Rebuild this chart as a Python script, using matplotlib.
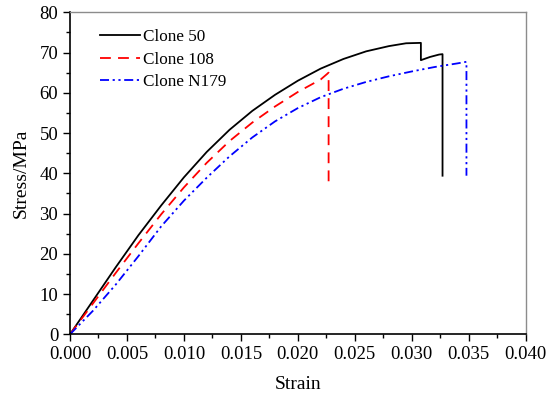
import matplotlib
matplotlib.use("Agg")
import matplotlib.pyplot as plt
from matplotlib.ticker import MultipleLocator, FormatStrFormatter

plt.rcParams['font.family'] = ['Liberation Serif', 'DejaVu Serif']

# Clone 50
strain_50 = [0, 0.002, 0.004, 0.006, 0.008, 0.010, 0.012, 0.014, 0.016, 0.018,
             0.020, 0.022, 0.024, 0.026, 0.028, 0.0295, 0.0308,
             0.0308, 0.0316, 0.0324, 0.0327, 0.0327]
stress_50 = [0, 8.3, 16.6, 24.6, 32.0, 39.0, 45.3, 50.8, 55.5, 59.5,
             63.0, 66.0, 68.4, 70.3, 71.6, 72.3, 72.4,
             68.1, 68.9, 69.5, 69.6, 39.4]

# Clone 108
strain_108 = [0, 0.002, 0.004, 0.006, 0.008, 0.010, 0.012, 0.014, 0.016, 0.018,
              0.020, 0.022, 0.0227, 0.0227]
stress_108 = [0, 7.6, 15.2, 22.6, 29.8, 36.5, 42.6, 48.0, 52.6, 56.6,
              60.2, 63.3, 65.0, 37.1]

# Clone N179
strain_n179 = [0, 0.002, 0.004, 0.006, 0.008, 0.010, 0.012, 0.014, 0.016, 0.018,
               0.020, 0.022, 0.024, 0.026, 0.028, 0.030, 0.032, 0.034, 0.0348, 0.0348]
stress_n179 = [0, 5.8, 12.3, 19.4, 26.8, 33.2, 38.9, 44.2, 48.9, 52.9,
               56.2, 58.9, 61.0, 62.7, 64.1, 65.3, 66.4, 67.3, 67.7, 39.4]

fig = plt.figure(figsize=(5.5, 3.95), dpi=100)
ax = fig.add_axes([0.1273, 0.1537, 0.8285, 0.8152])

ax.plot(strain_50, stress_50, color='black', lw=1.3, linestyle='-', label='Clone 50')
ax.plot(strain_108, stress_108, color='#ff0000', lw=1.3, linestyle=(0, (6, 4)), label='Clone 108')
ax.plot(strain_n179, stress_n179, color='#0000ff', lw=1.3,
        linestyle=(0, (5, 2, 1.2, 2, 1.2, 2)), label='Clone N179')

ax.set_xlim(0, 0.040)
ax.set_ylim(0, 80)
ax.xaxis.set_major_locator(MultipleLocator(0.005))
ax.xaxis.set_minor_locator(MultipleLocator(0.0025))
ax.yaxis.set_major_locator(MultipleLocator(10))
ax.yaxis.set_minor_locator(MultipleLocator(5))
ax.xaxis.set_major_formatter(FormatStrFormatter('%.3f'))

ax.tick_params(axis='both', which='major', direction='out', length=5, width=1,
               labelsize=13.5, top=False, right=False)
ax.tick_params(axis='both', which='minor', direction='out', length=3, width=1,
               top=False, right=False)

for s in ['top', 'right']:
    ax.spines[s].set_color('#8c8c8c')
    ax.spines[s].set_linewidth(1)
for s in ['left', 'bottom']:
    ax.spines[s].set_color('black')
    ax.spines[s].set_linewidth(1.2)

ax.set_xlabel('Strain', fontsize=14, labelpad=9)
ax.set_ylabel('Stress/MPa', fontsize=14, labelpad=7)

leg = ax.legend(loc='upper left', bbox_to_anchor=(0.05, 0.968), frameon=False,
                fontsize=12.3, handlelength=2.35, handletextpad=0.2, labelspacing=0.36,
                borderaxespad=0)

fig.savefig('out.png', dpi=100)
